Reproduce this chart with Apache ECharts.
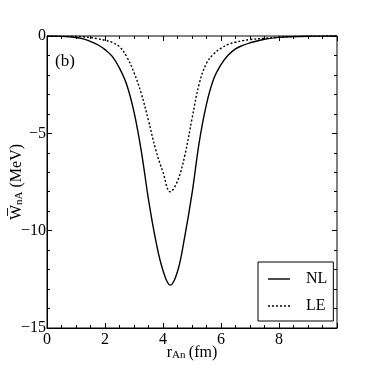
<!DOCTYPE html>
<html>
<head>
<meta charset="utf-8">
<script src="https://cdn.jsdelivr.net/npm/echarts@6/dist/echarts.min.js"></script>
<style>
  html, body { margin: 0; padding: 0; background: #fff; }
  #chart { width: 374px; height: 365px; }
</style>
</head>
<body>
<div id="chart"></div>
<script>
// r_An (fm) sample points
const rValues = [0, 0.5, 1, 1.25, 1.5, 1.75, 2, 2.25, 2.5, 2.75, 3, 3.25, 3.5, 3.75, 4, 4.25, 4.5, 4.75, 5, 5.25, 5.5, 5.75, 6, 6.25, 6.5, 6.75, 7, 7.5, 8, 8.5, 9, 10];
// W_nA (MeV), non-local
const nlValues = [0, -0.02, -0.08, -0.15, -0.28, -0.45, -0.7, -1.05, -1.65, -2.5, -3.9, -5.9, -8.4, -10.5, -12.05, -12.8, -12.1, -10.3, -8.1, -5.45, -3.5, -2.2, -1.47, -0.98, -0.66, -0.48, -0.35, -0.17, -0.07, -0.03, -0.01, 0];
// W_nA (MeV), local equivalent
const leValues = [0, -0.01, -0.02, -0.04, -0.08, -0.14, -0.22, -0.33, -0.55, -1.07, -1.88, -2.95, -4.35, -5.85, -7.0, -8.0, -7.45, -6.15, -4.25, -2.45, -1.4, -0.92, -0.63, -0.43, -0.32, -0.24, -0.18, -0.12, -0.06, -0.03, -0.01, 0];

const font = "'Liberation Serif', 'DejaVu Serif', serif";

const chart = echarts.init(document.getElementById("chart"));

function pairs(ys) {
  return rValues.map((r, i) => [r, ys[i]]);
}

const tickStyle = { color: "#000", width: 1 };

chart.setOption({
  animation: false,
  color: ["#000", "#000"],
  grid: {
    left: 47, right: 37, top: 36, bottom: 37,
    outerBoundsMode: "none",
    containLabel: false,
    show: true, borderColor: "#000", borderWidth: 1
  },
  legend: {
    orient: "vertical",
    left: 258, top: 262,
    borderColor: "#000", borderWidth: 1,
    padding: [9, 6, 7, 10],
    itemGap: 11,
    itemWidth: 22,
    itemHeight: 10,
    textStyle: { fontFamily: font, fontSize: 16, color: "#000", padding: [0, 0, 0, 11] },
    data: [
      { name: "NL", icon: "path://M0,0 L22,0 L22,1.4 L0,1.4 Z", itemStyle: { color: "#000" } },
      { name: "LE", icon: "path://M0,0 L2,0 L2,1.4 L0,1.4 Z M4,0 L6,0 L6,1.4 L4,1.4 Z M8,0 L10,0 L10,1.4 L8,1.4 Z M12,0 L14,0 L14,1.4 L12,1.4 Z M16,0 L18,0 L18,1.4 L16,1.4 Z M20,0 L22,0 L22,1.4 L20,1.4 Z", itemStyle: { color: "#000" } }
    ]
  },
  graphic: [{
    type: "text", left: 55, top: 53,
    style: { text: "(b)", font: "17px " + font, fill: "#000" }
  }],
  xAxis: [{
    type: "value", min: 0, max: 10, interval: 2,
    name: "{r|r}{s|An} {r|(fm)}",
    nameLocation: "middle", nameGap: 16, nameMoveOverlap: false,
    nameTextStyle: {
      rich: {
        r: { fontFamily: font, fontSize: 16, color: "#000" },
        s: { fontFamily: font, fontSize: 11, color: "#000", verticalAlign: "bottom", padding: [6, 0, 0, 0] }
      }
    },
    axisLine: { onZero: false, lineStyle: { color: "#000" } },
    axisTick: { inside: true, length: 5, lineStyle: tickStyle },
    minorTick: { show: true, splitNumber: 4, length: 3, lineStyle: tickStyle },
    splitLine: { show: false },
    axisLabel: { showMaxLabel: false, fontFamily: font, fontSize: 16, color: "#000", margin: 4 }
  }, {
    type: "value", position: "top", min: 0, max: 10, interval: 2,
    axisLine: { show: false, onZero: false },
    axisTick: { inside: true, length: 5, lineStyle: tickStyle },
    minorTick: { show: true, splitNumber: 4, length: 3, lineStyle: tickStyle },
    splitLine: { show: false },
    axisLabel: { show: false }
  }],
  yAxis: [{
    type: "value", min: -15, max: 0, interval: 5,
    name: "W\u0305{s|nA} (MeV)",
    nameLocation: "middle", nameGap: 22, nameRotate: 90, nameMoveOverlap: false,
    nameTextStyle: {
      fontFamily: font, fontSize: 16, color: "#000",
      rich: {
        s: { fontFamily: font, fontSize: 11, color: "#000", verticalAlign: "bottom", padding: [6, 0, 0, 0] }
      }
    },
    axisLine: { onZero: false, lineStyle: { color: "#000" } },
    axisTick: { inside: true, length: 5, lineStyle: tickStyle },
    minorTick: { show: true, splitNumber: 5, length: 3, lineStyle: tickStyle },
    splitLine: { show: false },
    axisLabel: {
      fontFamily: font, fontSize: 16, color: "#000", margin: 1,
      formatter: v => (v < 0 ? "\u2212" + Math.abs(v) : String(v))
    }
  }, {
    type: "value", position: "right", min: -15, max: 0, interval: 5,
    axisLine: { show: false, onZero: false },
    axisTick: { inside: true, length: 5, lineStyle: tickStyle },
    minorTick: { show: true, splitNumber: 5, length: 3, lineStyle: tickStyle },
    splitLine: { show: false },
    axisLabel: { show: false }
  }],
  series: [{
    name: "NL", type: "line", smooth: 0.4, symbol: "none",
    data: pairs(nlValues),
    itemStyle: { color: "#000" },
    lineStyle: { color: "#000", width: 1.4 }
  }, {
    name: "LE", type: "line", smooth: 0.4, symbol: "none",
    data: pairs(leValues),
    itemStyle: { color: "#000" },
    lineStyle: { color: "#000", width: 1.4, type: [2, 2] }
  }]
});
</script>
</body>
</html>
